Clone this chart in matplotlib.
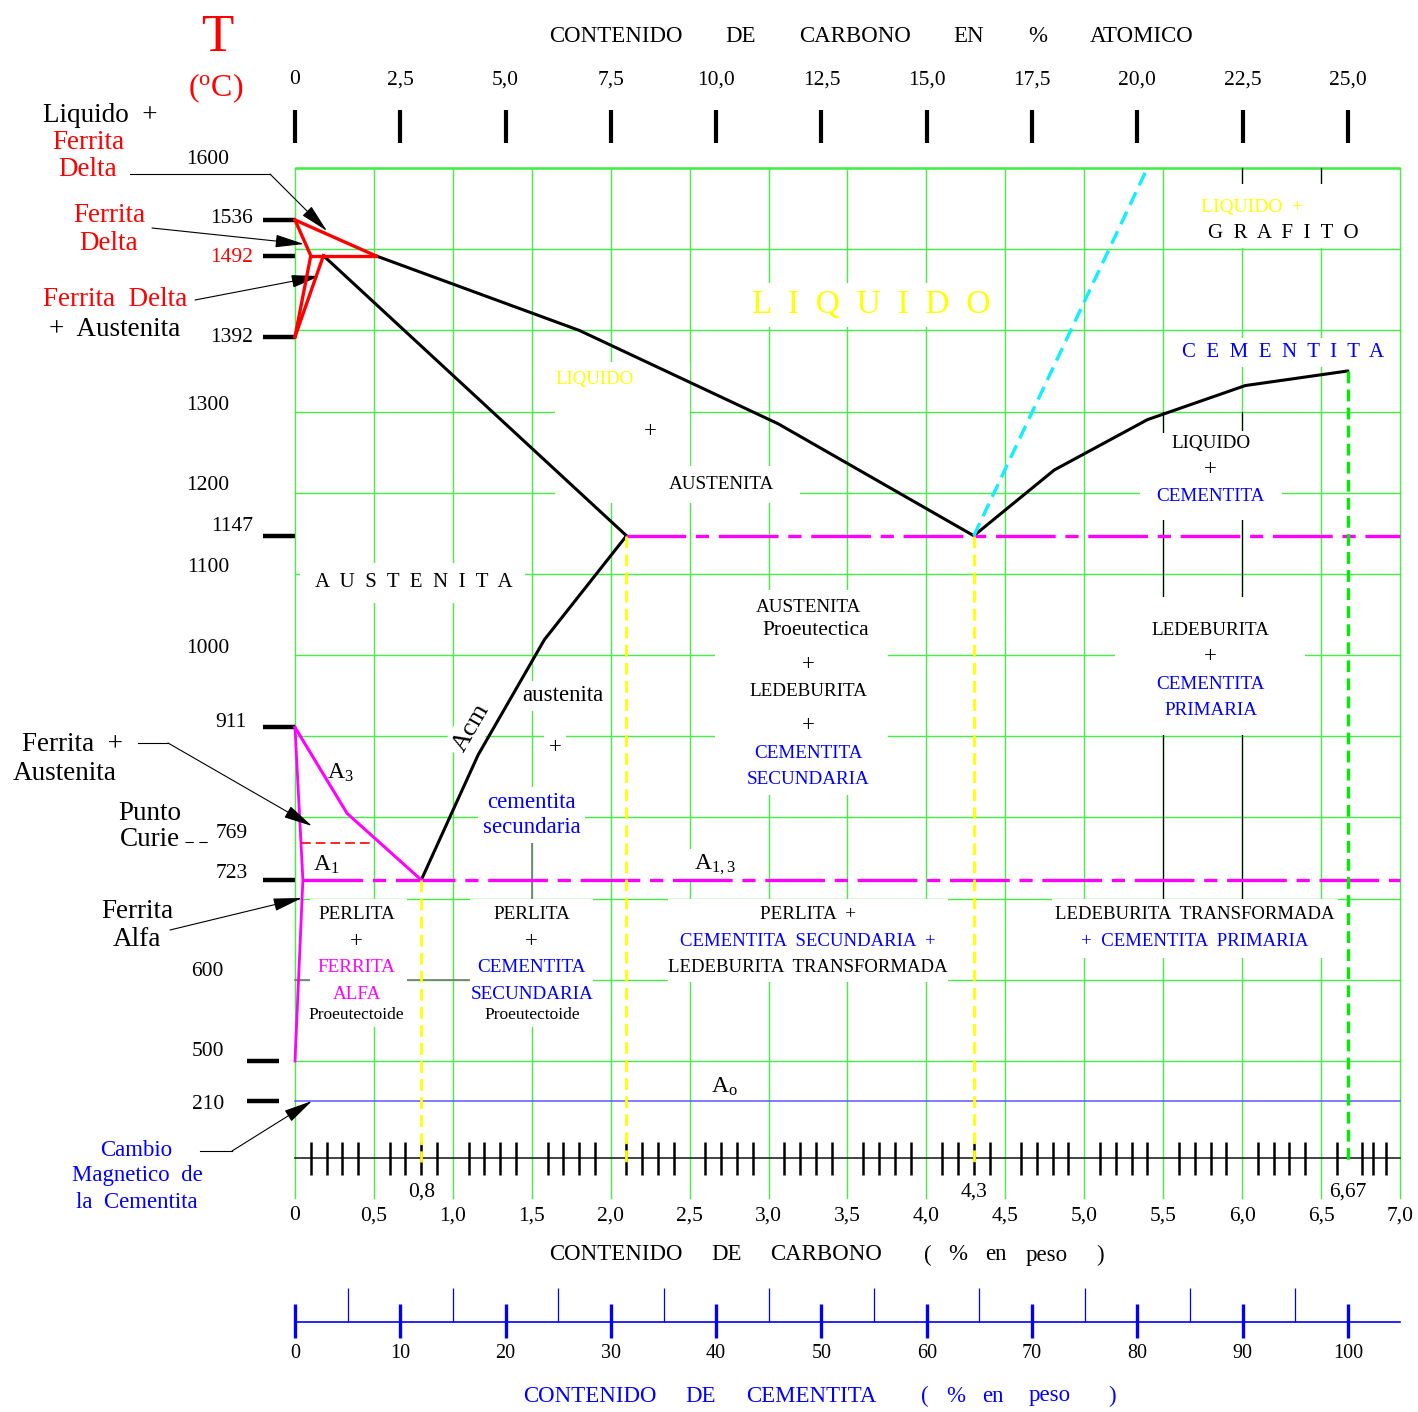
import numpy as np
import matplotlib
matplotlib.use("Agg")
import matplotlib.pyplot as plt
from matplotlib.patches import Rectangle

W, H = 1418, 1412

plt.rcParams['font.family'] = ['Liberation Serif', 'DejaVu Serif']
plt.rcParams['mathtext.fontset'] = 'custom'
plt.rcParams['mathtext.rm'] = 'Liberation Serif'
plt.rcParams['mathtext.default'] = 'rm'
plt.rcParams['lines.scale_dashes'] = False

# ---------------- data ----------------
# composition axis (wt % C)
wt_major = [0, 0.5, 1.0, 1.5, 2.0, 2.5, 3.0, 3.5, 4.0, 4.5, 5.0, 5.5, 6.0, 6.5, 7.0]
wt_major_labels = ['0', '0,5', '1,0', '1,5', '2,0', '2,5', '3,0', '3,5', '4,0',
                   '4,5', '5,0', '5,5', '6,0', '6,5', '7,0']
wt_minor = [round(0.1 * i, 1) for i in range(1, 67) if i % 5 != 0] + [6.76, 6.83, 6.91]
wt_key = [0.8, 4.3, 6.67]
wt_key_labels = ['0,8', '4,3', '6,67']

# atomic % axis (top) and cementite % axis (bottom)
atomic_pct = [0, 2.5, 5.0, 7.5, 10.0, 12.5, 15.0, 17.5, 20.0, 22.5, 25.0]
atomic_labels = ['0', '2,5', '5,0', '7,5', '10,0', '12,5', '15,0', '17,5', '20,0', '22,5', '25,0']
cem_major = [0, 10, 20, 30, 40, 50, 60, 70, 80, 90, 100]
cem_minor = [5, 15, 25, 35, 45, 55, 65, 75, 85, 95]
C_FE3C = 6.67  # wt% C of cementite (25 at%)

# temperatures
grid_T = [500, 600, 700, 800, 900, 1000, 1100, 1200, 1300, 1400, 1500, 1600]
temp_marks = [1536, 1492, 1392, 1147, 911, 723]
temp_marks_low = [500, 210]
temp_labels = [1600, 1536, 1492, 1392, 1300, 1200, 1147, 1100, 1000, 911, 769, 723, 600, 500, 210]

# phase boundaries (wt% C, T degC)
delta_liq_x, delta_liq_T = [0.0, 0.51], [1536, 1492]
delta_sol_x, delta_sol_T = [0.0, 0.10, 0.0], [1536, 1492, 1392]
peritectic_x, peritectic_T = [0.10, 0.51], [1492, 1492]
delta_gamma_x, delta_gamma_T = [0.18, 0.0], [1492, 1392]
liquidus_x = [0.51, 1.80, 3.06, 4.30, 4.81, 5.40, 6.02, 6.67]
liquidus_T = [1492, 1400, 1285, 1147, 1228, 1290, 1332, 1350]
solidus_x, solidus_T = [0.18, 2.10], [1492, 1147]
acm_x, acm_T = [2.10, 1.58, 1.16, 0.80], [1147, 1019, 877, 723]
a3_x, a3_T = [0.0, 0.33, 0.80], [911, 805, 723]
alpha_x, alpha_T = [0.0, 0.05, 0.0], [911, 723, 500]
graphite_x, graphite_T = [4.30, 5.40], [1147, 1600]
eutectic_x, eutectic_T = [2.10, 7.0], [1147, 1147]
eutectoid_x, eutectoid_T = [0.05, 7.0], [723, 723]
curie_x, curie_T = [0.04, 0.50], [769, 769]
a0_x, a0_T = [0.0, 7.0], [210, 210]
eut_points_x, eut_points_T = [0.8, 2.1, 4.3], [723, 1147, 1147]

# ---------------- scales ----------------
X0, XS = 295.0, 157.857     # px of 0 wt%, px per wt%
Y0, YS = 168.0, 0.8118      # px of 1600 C, px per degC
LOW = 0.17                  # compression of the scale below 500 C


def fwd(T):
    T = np.asarray(T, dtype=float)
    return np.where(T >= 500, T, 500 + (T - 500) * LOW)


def inv(y):
    y = np.asarray(y, dtype=float)
    return np.where(y >= 500, y, 500 + (y - 500) / LOW)


def xd(px):
    return (px - X0) / XS


def T_row(py):
    return float(inv(1600 - (py - Y0) / YS))


def pt(px, py):
    return (xd(px), T_row(py))


fig = plt.figure(figsize=(W / 100, H / 100), dpi=100)
ax = fig.add_axes([0, 0, 1, 1])
ax.set_yscale('function', functions=(fwd, inv))
ax.set_xlim(xd(0), xd(W))
ax.set_ylim(T_row(H), T_row(0))
ax.axis('off')

GREEN = '#44ee44'
MAG = '#ff00ff'
BLUE = '#0000ff'
RED = '#ff0000'
YEL = '#ffff00'

# ---------------- grid ----------------
T_bottom = T_row(1198)
for x in wt_major:
    ax.plot([x, x], [T_bottom, 1600], color=GREEN, lw=1.0, zorder=1)
ax.hlines(grid_T, 0, 7.0, color=GREEN, lw=1.0, zorder=1)
ax.hlines([1600], 0, 7.0, color=GREEN, lw=1.8, zorder=1)
# parts of the grid drawn in black / gray in the original
for x in [5.5, 6.0]:
    ax.plot([x, x], [700, 1300], color='black', lw=0.9, zorder=1.2)
for x in [6.0, 6.5]:
    ax.plot([x, x], [1582, 1600], color='black', lw=0.9, zorder=1.2)
ax.plot([0, 1.1], [600, 600], color='#777777', lw=1.2, zorder=1.2)
ax.plot([1.5, 1.5], [700, 771], color='#777777', lw=1.2, zorder=1.2)


# white areas left around the region names (pixel boxes of the original)
def mask(px0, py0, px1, py1):
    ax.add_patch(Rectangle((xd(px0), T_row(py1)), (px1 - px0) / XS, T_row(py0) - T_row(py1),
                           fc='white', ec='none', zorder=1.5))


mask(300, 563, 525, 603)
mask(555, 362, 690, 503)
mask(640, 466, 800, 503)
mask(1190, 184, 1368, 248)
mask(1176, 338, 1392, 367)
mask(1140, 433, 1282, 520)
mask(1115, 597, 1305, 735)
mask(715, 590, 888, 795)
mask(310, 899, 407, 1027)
mask(470, 899, 593, 1027)
mask(668, 899, 948, 982)
mask(1052, 899, 1338, 958)

# ---------------- temperature axis ----------------
ax.hlines(temp_marks, xd(263), 0, color='black', lw=3.2, zorder=3)
ax.hlines(temp_marks_low, xd(247), xd(279), color='black', lw=3.2, zorder=3)
label_right = {1600: 229, 1536: 253, 1492: 253, 1392: 253, 1300: 229, 1200: 229,
               1147: 253, 1100: 229, 1000: 229, 911: 247, 769: 248, 723: 248,
               600: 224, 500: 224, 210: 224}
label_raise = {1600: 8, 1536: 1, 1492: -2, 1392: -1, 1300: 6, 1200: 7, 1147: 9,
               1100: 6, 1000: 7, 911: 5, 769: 9, 723: 6, 600: 8, 500: 9, 210: -3}
for T in temp_labels:
    ax.annotate(str(T), xy=(xd(label_right[T]), T), xytext=(0, label_raise[T]),
                textcoords='offset pixels', ha='right', va='center', fontsize=15.5,
                color=RED if T == 1492 else 'black')

ax.text(*pt(217, 38), 'T', color=RED, fontsize=38, ha='center', va='center')
ax.text(*pt(216, 88), r'($^{\mathrm{o}}$C)', color=RED, fontsize=23, ha='center', va='center')

# ---------------- bottom composition axis ----------------
T_axis = T_row(1158)
ax.plot([0, 7.0], [T_axis, T_axis], color='#222222', lw=1.2, zorder=2)
ax.vlines(wt_minor, T_row(1175), T_row(1142), color='black', lw=1.8, zorder=2)
for x, s in zip(wt_major, wt_major_labels):
    ax.text(x, T_row(1216), s, ha='center', va='center', fontsize=15.5)
for x, s in zip(wt_key, wt_key_labels):
    ax.text(x, T_row(1192), s, ha='center', va='center', fontsize=15.5)


def words(items, py, color='black', size=16.5):
    for px, w in items:
        ax.text(xd(px), T_row(py), w, ha='center', va='center', fontsize=size, color=color)


words([(616, 'CONTENIDO'), (727, 'DE'), (826, 'CARBONO'), (928, '('), (958, '%'),
       (996, 'en'), (1047, 'peso'), (1100, ')')], 1255)

# ---------------- top atomic axis ----------------
at_x = [a * C_FE3C / 25 for a in atomic_pct]
ax.vlines(at_x, T_row(143), T_row(110), color='black', lw=3)
for x, s in zip(at_x, atomic_labels):
    ax.text(x, T_row(80), s, ha='center', va='center', fontsize=15.5)
words([(616, 'CONTENIDO'), (741, 'DE'), (855, 'CARBONO'), (969, 'EN'), (1038, '%'),
       (1142, 'ATOMICO')], 36)

# ---------------- bottom cementite axis ----------------
cem_major_x = [c * C_FE3C / 100 for c in cem_major]
cem_minor_x = [c * C_FE3C / 100 for c in cem_minor]
ax.plot([0, 7.0], [T_row(1322)] * 2, color=BLUE, lw=1.2)
ax.vlines(cem_major_x, T_row(1338), T_row(1304), color=BLUE, lw=2.4)
ax.vlines(cem_minor_x, T_row(1322), T_row(1288), color=BLUE, lw=0.9)
for x, c in zip(cem_major_x, cem_major):
    ax.text(x, T_row(1353), str(c), ha='center', va='center', fontsize=14.5)
words([(590, 'CONTENIDO'), (701, 'DE'), (811, 'CEMENTITA'), (925, '('), (956, '%'),
       (993, 'en'), (1050, 'peso'), (1112, ')')], 1396, color=BLUE)

# ---------------- phase lines ----------------
K = dict(color='black', lw=2.2, zorder=3, solid_capstyle='round')
ax.plot(liquidus_x, liquidus_T, **K)
ax.plot(solidus_x, solidus_T, **K)
ax.plot(acm_x, acm_T, **K)

R = dict(color=RED, lw=2.4, zorder=3.2, solid_joinstyle='miter')
ax.plot(delta_liq_x, delta_liq_T, **R)
ax.plot(delta_sol_x, delta_sol_T, **R)
ax.plot(peritectic_x, peritectic_T, **R)
ax.plot(delta_gamma_x, delta_gamma_T, **R)

ax.plot(a3_x, a3_T, color=MAG, lw=2.2, zorder=3)
ax.plot(alpha_x, alpha_T, color=MAG, lw=2.0, zorder=3)
ax.plot(eutectic_x, eutectic_T, color=MAG, lw=2.4, dashes=(43, 7, 9.5, 7), zorder=3)
ax.plot(eutectoid_x, eutectoid_T, color=MAG, lw=2.4, dashes=(43, 7, 9.5, 7), zorder=3)
ax.plot(curie_x, curie_T, color=RED, lw=1.2, dashes=(7, 3.6), zorder=3)
ax.plot(a0_x, a0_T, color='#5a5aff', lw=1.1, zorder=3)
ax.plot(graphite_x, graphite_T, color='#11eeff', lw=2.4, dashes=(10, 5.5), zorder=3)

T_drop = T_row(1162)
for x, T in zip(eut_points_x, eut_points_T):
    ax.plot([x, x], [T, T_drop], color=YEL, lw=2.0, dashes=(8.5, 4.5), zorder=3)
ax.plot([C_FE3C, C_FE3C], [1350, T_drop], color='#00ee00', lw=2.4, dashes=(8.5, 4.5), zorder=3)


# ---------------- labels inside the diagram ----------------
def label(x, T, s, color='black', size=13.8, **kw):
    if s == '+':
        size = 16.5
    ax.text(x, T, s, color=color, fontsize=size, ha='center', va='center', zorder=2,
            bbox=dict(boxstyle='square,pad=0.2', fc='white', ec='none'), **kw)


label(0.75, 1090, 'A  U  S  T  E  N  I  T  A', size=15)
label(3.65, 1431, 'L  I  Q  U  I  D  O', color=YEL, size=24)
label(1.90, 1339, 'LIQUIDO', color=YEL, size=13.5)
label(2.25, 1275, '+')
label(2.70, 1210, 'AUSTENITA')
label(6.06, 1551, 'LIQUIDO  +', color=YEL, size=14)
label(6.26, 1519, 'G  R  A  F  I  T  O', size=15)
label(6.26, 1373, 'C  E  M  E  N  T  I  T  A', color=BLUE, size=15)
label(5.80, 1261, 'LIQUIDO')
label(5.80, 1228, '+')
label(5.80, 1195, 'CEMENTITA', color=BLUE)

label(3.25, 1059, 'AUSTENITA')
label(3.30, 1030, 'Proeutectica', size=15.5)
label(3.25, 988, '+')
label(3.25, 955, 'LEDEBURITA')
label(3.25, 913, '+')
label(3.25, 879, 'CEMENTITA', color=BLUE)
label(3.25, 847, 'SECUNDARIA', color=BLUE)

label(5.80, 1030, 'LEDEBURITA')
label(5.80, 998, '+')
label(5.80, 964, 'CEMENTITA', color=BLUE)
label(5.80, 932, 'PRIMARIA', color=BLUE)

label(1.12, 911, 'Acm', size=19, rotation=60)
label(1.70, 950, 'austenita', size=16.5)
label(1.65, 886, '+')
label(1.50, 819, 'cementita', color=BLUE, size=16.5)
label(1.50, 787, 'secundaria', color=BLUE, size=16.5)

label(0.29, 855, r'A$_{3}$', size=17)
label(0.20, 741, r'A$_{1}$', size=17)
label(2.66, 741, r'A$_{1,3}$', size=17)
label(2.72, T_row(1087), r'A$_{\mathrm{o}}$', size=17)

for x, col, word in [(0.39, MAG, ('FERRITA', 'ALFA')), (1.50, BLUE, ('CEMENTITA', 'SECUNDARIA'))]:
    label(x, 680, 'PERLITA')
    label(x, 647, '+')
    label(x, 615, word[0], color=col)
    label(x, 582, word[1], color=col)
    label(x, 557, 'Proeutectoide', size=12.5)

label(3.25, 680, 'PERLITA  +')
label(3.25, 647, 'CEMENTITA  SECUNDARIA  +', color=BLUE, size=13.5)
label(3.25, 615, 'LEDEBURITA  TRANSFORMADA', size=13.5)
label(5.70, 680, 'LEDEBURITA  TRANSFORMADA', size=13.5)
label(5.70, 647, '+  CEMENTITA  PRIMARIA', color=BLUE, size=13.5)


# ---------------- labels outside with leaders ----------------
def side(px, py, s, color='black', size=19.5):
    ax.text(*pt(px, py), s, color=color, fontsize=size, ha='center', va='center')


def leader(points, tip):
    if len(points) > 1:
        ax.plot([p[0] for p in points], [p[1] for p in points], color='black', lw=0.8)
    ax.annotate('', xy=tip, xytext=points[-1],
                arrowprops=dict(arrowstyle='-|>,head_length=0.9,head_width=0.2',
                                mutation_scale=20, lw=0.8, color='black',
                                shrinkA=0, shrinkB=0))


side(100, 115, 'Liquido  +')
side(88, 143, 'Ferrita', RED)
side(88, 170, 'Delta', RED)
leader([pt(130, 174), pt(270, 174)], pt(327, 231))

side(109, 215, 'Ferrita', RED)
side(109, 244, 'Delta', RED)
leader([pt(152, 228)], pt(304, 244))

side(115, 300, 'Ferrita  Delta', RED)
side(115, 330, '+  Austenita')
leader([pt(195, 300)], pt(320, 276))

side(72, 745, 'Ferrita  +')
side(65, 774, 'Austenita')
leader([pt(138, 743), pt(168, 743)], pt(312, 826))

side(150, 813, 'Punto')
side(150, 840, 'Curie')
ax.plot([xd(185), xd(210)], [T_row(842)] * 2, color='black', lw=0.8, dashes=(6, 4))

side(137, 912, 'Ferrita')
side(137, 940, 'Alfa')
leader([pt(170, 930)], pt(302, 898))

side(136, 1151, 'Cambio', BLUE, 16.5)
side(137, 1176, 'Magnetico  de', BLUE, 16.5)
side(137, 1202, 'la  Cementita', BLUE, 16.5)
leader([pt(200, 1151), pt(232, 1151)], pt(312, 1101))

fig.savefig('out.png', dpi=100, facecolor='white')
